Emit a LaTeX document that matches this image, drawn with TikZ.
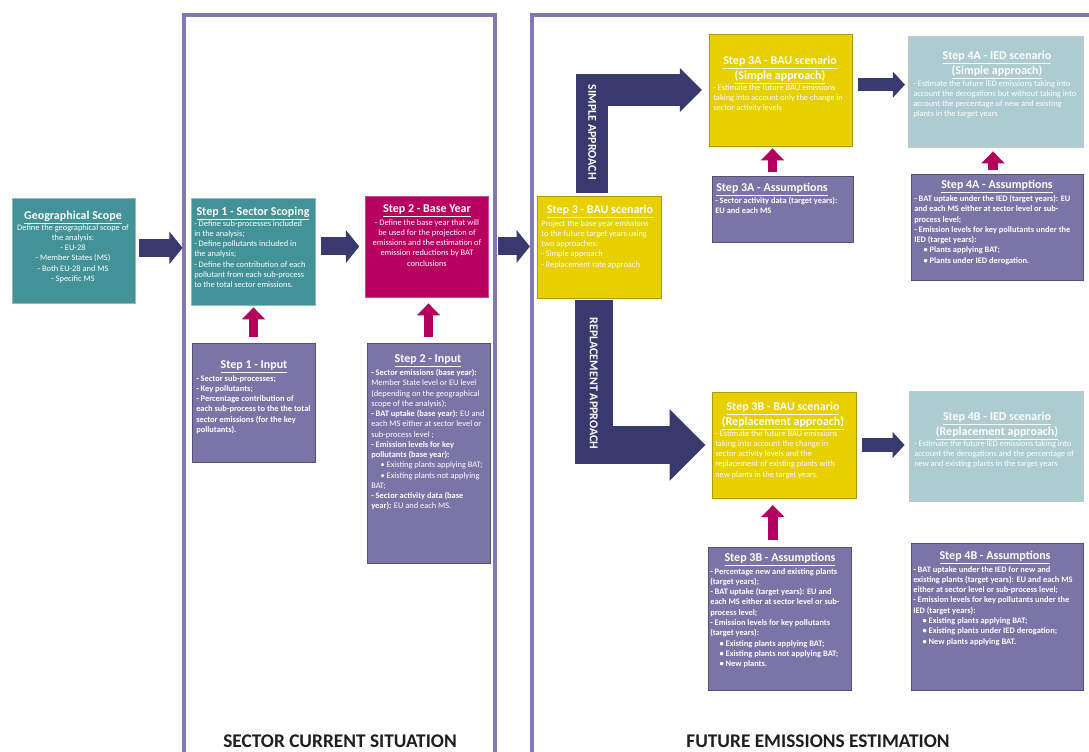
\documentclass[tikz,border=0pt]{standalone}
\usepackage{fontspec}
\setmainfont{Carlito}
\usetikzlibrary{positioning,fit,arrows.meta}

\definecolor{tealbg}{RGB}{66,146,152}
\definecolor{magbg}{RGB}{183,0,95}
\definecolor{yelbg}{RGB}{232,207,0}
\definecolor{bluebg}{RGB}{172,204,209}
\definecolor{purbg}{RGB}{123,116,166}
\definecolor{navy}{RGB}{56,57,110}
\definecolor{framecol}{RGB}{128,122,178}
\definecolor{uparrow}{RGB}{178,0,92}

\tikzset{
  box/.style={inner sep=0pt, line width=0.6pt},
  tealbox/.style={box, fill=tealbg, draw=tealbg!60!white},
  magbox/.style={box, fill=magbg, draw=magbg!70!white},
  yelbox/.style={box, fill=yelbg, draw=yelbg!75!black},
  bluebox/.style={box, fill=bluebg, draw=gray!45},
  purbox/.style={box, fill=purbg, draw=purbg!70!black},
  frame/.style={draw=framecol, line width=3pt},
  ttl/.style={inner sep=0pt, anchor=north, text=white, align=center,
    font=\fontsize{9}{10}\selectfont\bfseries},
  bdy/.style={inner sep=0pt, anchor=north west, text=white, align=left,
    font=\fontsize{6.3}{7.7}\selectfont},
  bdyb/.style={bdy, font=\fontsize{6.3}{7.7}\selectfont\bfseries},
  stepar/.style={draw=navy, line width=13.5pt, -{Triangle[width=24pt,length=10pt]}},
  nextar/.style={draw=navy, line width=10pt, -{Triangle[width=19pt,length=9pt]}},
  lar/.style={draw=navy, line join=miter},
  apptxt/.style={inner sep=0pt, rotate=-90, text=white,
    font=\fontsize{9}{9}\selectfont\bfseries},
  uparr/.style={draw=uparrow, line width=7pt, -{Triangle[width=17pt,length=9pt]}},
  seclabel/.style={inner sep=0pt, text={rgb,255:red,30;green,30;blue,30},
    font=\fontsize{14.5}{15}\selectfont\bfseries}
}

\begin{document}
\begin{tikzpicture}[x=0.75pt,y=0.75pt,yscale=-1,xscale=1]
\useasboundingbox (0,0) rectangle (1089,752);

% panels
\draw[frame] (184,15) rectangle (495,790);
\draw[frame] (532,15) rectangle (1120,790);

% boxes
\node[tealbox, fit={(12,198) (135,303)}] (geo) {};
\node[tealbox, fit={(191,198) (315,305)}] (scope) {};
\node[magbox, fit={(365,196) (488,297)}] (base) {};
\node[yelbox, fit={(537,196) (661,298)}] (bau) {};
\node[purbox, fit={(192,343) (315,462)}] (scopein) {};
\node[purbox, fit={(367,343) (490,563)}] (basein) {};
\node[yelbox, fit={(709,34) (852,146)}] (bausimple) {};
\node[bluebox, fit={(908,36) (1083,147)}] (iedsimple) {};
\node[purbox, fit={(712,176) (853,242)}] (bausimpleas) {};
\node[purbox, fit={(911,174) (1083,280)}] (iedsimpleas) {};
\node[yelbox, fit={(712,392) (856,498)}] (baurepl) {};
\node[bluebox, fit={(909,391) (1083,501)}] (iedrepl) {};
\node[purbox, fit={(708,547) (851,690)}] (baureplas) {};
\node[purbox, fit={(911,543) (1083,690)}] (iedreplas) {};

% texts
\node[ttl] (geottl) at (73,211) {\underline{Geographical Scope}};
\node[bdy, anchor=north, align=center] (geotxt) at (73,224) {Define the geographical scope of\\the analysis:\\- EU-28\\- Member States (MS)\\- Both EU-28 and MS\\- Specific MS};

\node[ttl] (scopettl) at (253,207) {\underline{Step 1 - Sector Scoping}};
\node[bdy] (scopetxt) at (194,220) {- Define sub-processes included\\in the analysis;\\- Define pollutants included in\\the analysis;\\- Define the contribution of each\\pollutant from each sub-process\\to the total sector emissions.};

\node[ttl] (basettl) at (427,204) {\underline{Step 2 - Base Year}};
\node[bdy, anchor=north, align=center] (basetxt) at (427,219) {- Define the base year that will\\be used for the projection of\\emissions and the estimation of\\emission reductions by BAT\\conclusions};

\node[ttl] (bauttl) at (600,205) {\underline{Step 3 - BAU scenario}};
\node[bdy] (bautxt) at (541,220) {Project the base year emissions\\to the future target years using\\two approaches:\\- Simple approach\\- Replacement rate approach};

\node[ttl] (scopeinttl) at (254,360) {\underline{Step 1 - Input}};
\node[bdyb] (scopeintxt) at (196,375) {- Sector sub-processes;\\- Key pollutants;\\- Percentage contribution of\\each sub-process to the the total\\sector emissions (for the key\\pollutants).};

\node[ttl] (baseinttl) at (428,354) {\underline{Step 2 - Input}};
\node[bdy] (baseintxt) at (371,369) {\textbf{- Sector emissions (base year):}\\Member State level or EU level\\(depending on the geographical\\scope of the analysis);\\\textbf{- BAT uptake (base year):} EU and\\each MS either at sector level or\\sub-process level ;\\\textbf{- Emission levels for key}\\\textbf{pollutants (base year):}\\\hspace*{7pt}\textbullet{} Existing plants applying BAT;\\\hspace*{7pt}\textbullet{} Existing plants not applying\\BAT;\\\textbf{- Sector activity data (base}\\\textbf{year):} EU and each MS.};

\node[ttl] (bausimplettl) at (780,56) {\underline{Step 3A - BAU scenario}\\\underline{(Simple approach)}};
\node[bdy] (bausimpletxt) at (713,84) {- Estimate the future BAU emissions\\taking into account only the change in\\sector activity levels};

\node[ttl] (iedsimplettl) at (997,51) {\underline{Step 4A - IED scenario}\\\underline{(Simple approach)}};
\node[bdy] (iedsimpletxt) at (913,80) {- Estimate the future IED emissions  taking into\\account the derogations but without taking into\\account the percentage of new and existing\\plants in the target years};

\node[ttl, anchor=north west] (bausimpleasttl) at (716,183) {\underline{Step 3A - Assumptions}};
\node[bdyb] (bausimpleastxt) at (715,197) {- Sector activity data (target years):\\EU and each MS};

\node[ttl] (iedsimpleasttl) at (997,180) {\underline{Step 4A - Assumptions}};
\node[bdyb] (iedsimpleastxt) at (914,195) {- BAT uptake under the IED (target years): EU\\and each MS either at sector level or sub-\\process level;\\- Emission levels for key pollutants under the\\IED (target years):\\\hspace*{7pt}\textbullet{} Plants applying BAT;\\\hspace*{7pt}\textbullet{} Plants under IED derogation.};

\node[ttl] (baurepllttl) at (783,402) {\underline{Step 3B - BAU scenario}\\\underline{(Replacement approach)}};
\node[bdy] (baurepltxt) at (715,430) {- Estimate the future BAU emissions\\taking into account the change in\\sector activity levels and the\\replacement of existing plants with\\new plants in the target years.};

\node[ttl] (iedreplttl) at (997,412) {\underline{Step 4B - IED scenario}\\\underline{(Replacement approach)}};
\node[bdy] (iedrepltxt) at (914,440) {- Estimate the future IED emissions  taking into\\account the derogations and the percentage of\\new and existing plants in the target years};

\node[ttl] (baureplasttl) at (780,553) {\underline{Step 3B - Assumptions}};
\node[bdyb] (baureplastxt) at (710,568) {- Percentage new and existing plants\\(target years);\\- BAT uptake (target years): EU and\\each MS either at sector level or sub-\\process level;\\- Emission levels for key pollutants\\(target years):\\\hspace*{7pt}\textbullet{} Existing plants applying BAT;\\\hspace*{7pt}\textbullet{} Existing plants not applying BAT;\\\hspace*{7pt}\textbullet{} New plants.};

\node[ttl] (iedreplasttl) at (995,551) {\underline{Step 4B - Assumptions}};
\node[bdyb] (iedreplastxt) at (913,566) {- BAT uptake under the IED for new and\\existing plants (target years): EU and each MS\\either at sector level or sub-process level;\\- Emission levels for key pollutants under the\\IED (target years):\\\hspace*{7pt}\textbullet{} Existing plants applying BAT;\\\hspace*{7pt}\textbullet{} Existing plants under IED derogation;\\\hspace*{7pt}\textbullet{} New plants applying BAT.};

% step arrows
\draw[stepar, shorten <=3pt, shorten >=6pt] ([yshift=-2pt]geo.east) -- ([yshift=-2pt]geo.east -| scope.west);
\draw[stepar, shorten <=4pt, shorten >=4pt] (scope.east |- base.west) -- (base.west);
\draw[stepar, shorten <=7.5pt, shorten >=5pt] (base.east) -- (base.east -| bau.west);
\draw[nextar, shorten <=4pt, shorten >=2pt] ([yshift=-4pt]bausimple.east) -- ([yshift=-4pt]bausimple.east -| iedsimple.west);
\draw[nextar, shorten <=4pt, shorten >=3pt] (baurepl.east) -- (baurepl.east -| iedrepl.west);

% approach arrows
\draw[lar, line width=24pt, -{Triangle[width=32pt,length=16.5pt]}, shorten <=2pt, shorten >=5pt]
  ([xshift=-5pt]bau.north) |- node[apptxt, pos=0.3] (simpletxt) {SIMPLE APPROACH} (bausimple.west);
\draw[lar, line width=28.5pt, -{Triangle[width=52pt,length=27pt]}, shorten <=1.5pt, shorten >=4.5pt]
  ([xshift=-4pt]bau.south) |- node[apptxt, pos=0.29] (repltxt) {REPLACEMENT APPROACH} (baurepl.west);

% inputs / assumptions
\coordinate (a1) at (scopein.north);
\coordinate (a2) at (basein.north);
\coordinate (a3) at ([xshift=-7.5pt]bausimpleas.north);
\coordinate (a4) at ([xshift=-3pt]iedsimpleas.north);
\coordinate (a5) at ([xshift=-5pt]baureplas.north);
\draw[uparr, shorten <=4.5pt, shorten >=1.5pt] (a1) -- (a1 |- scope.south);
\draw[uparr, shorten <=4.5pt, shorten >=4.5pt] (a2) -- (a2 |- base.south);
\draw[uparr, shorten <=3pt, shorten >=1.5pt] (a3) -- (a3 |- bausimple.south);
\draw[uparr, shorten <=3pt, shorten >=3pt] (a4) -- (a4 |- iedsimple.south);
\draw[uparr, shorten <=5pt, shorten >=5pt] (a5) -- (a5 |- baurepl.south);

% panel labels
\node[seclabel] (curlabel) at (340,741) {SECTOR CURRENT SITUATION};
\node[seclabel] (futlabel) at (818,741) {FUTURE EMISSIONS ESTIMATION};

\end{tikzpicture}
\end{document}
